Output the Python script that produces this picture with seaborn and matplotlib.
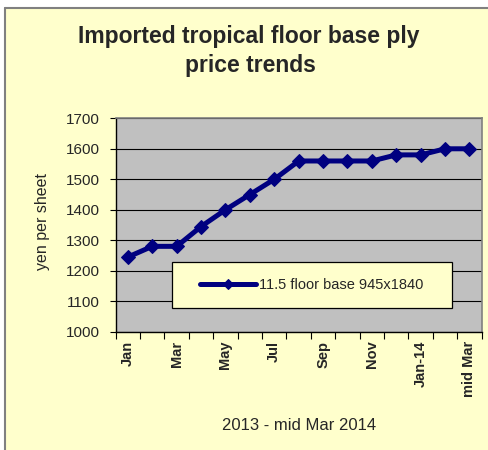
import numpy as np
import pandas as pd
import matplotlib
matplotlib.use("Agg")
import matplotlib.pyplot as plt
import seaborn as sns
from matplotlib.patches import Rectangle
from matplotlib.lines import Line2D

months = ["Jan", "Feb", "Mar", "Apr", "May", "Jun", "Jul", "Aug",
          "Sep", "Oct", "Nov", "Dec", "Jan-14", "Feb-14", "mid Mar"]
prices = [1245, 1280, 1280, 1345, 1400, 1450, 1500, 1560,
          1560, 1560, 1560, 1580, 1580, 1600, 1600]
shown_labels = ["Jan", "Mar", "May", "Jul", "Sep", "Nov", "Jan-14", "mid Mar"]
y_ticks = [1000, 1100, 1200, 1300, 1400, 1500, 1600, 1700]
series_name = "11.5 floor base 945x1840"
title_line1 = "Imported tropical floor base ply"
title_line2 = "price trends"
x_title = "2013 - mid Mar 2014"
y_title = "yen per sheet"

sns.set_style("white")
plt.rcParams['font.family'] = ['Liberation Sans', 'DejaVu Sans']

W, H = 489, 450
fig = plt.figure(figsize=(W / 100, H / 100), dpi=100, facecolor="white")

# outer chart area (light yellow with gray top/left border)
bg = Rectangle((5 / W, 0), 1, 1 - 8 / H, transform=fig.transFigure,
               facecolor="#FFFFCC", edgecolor="none", zorder=-10)
fig.patches.append(bg)
fig.lines.append(Line2D([5 / W, 5 / W], [0, 1 - 8 / H], transform=fig.transFigure,
                        color="#808080", lw=1.5, zorder=-9))
fig.lines.append(Line2D([5 / W, 1], [1 - 8 / H, 1 - 8 / H], transform=fig.transFigure,
                        color="#808080", lw=1.5, zorder=-9))

left, right, top, bottom = 115.7, 481.7, 118.3, 331.7
ax = fig.add_axes([left / W, 1 - bottom / H, (right - left) / W, (bottom - top) / H])
ax.set_zorder(1)
ax.set_facecolor("#C0C0C0")

df = pd.DataFrame({"month": months, "price": prices})
sns.lineplot(data=df, x="month", y="price", sort=False, ax=ax, color="#000080",
             lw=3.6, marker="D", markersize=7.5, markeredgecolor="#000080",
             label=series_name, zorder=3)

ax.set_xlim(-0.5, len(months) - 0.5)
ax.set_ylim(1000, 1700)
ax.set_yticks(y_ticks)
ax.set_yticklabels([str(v) for v in y_ticks], fontsize=11)
ax.yaxis.grid(True, color="black", lw=0.8)
ax.set_axisbelow(True)

ax.set_xticks(np.arange(-0.5, len(months), 1))
ax.set_xticklabels([])
pos = [months.index(m) for m in shown_labels]
ax.set_xticks(pos, minor=True)
ax.set_xticklabels(shown_labels, minor=True, rotation=90, fontsize=10.5,
                   fontweight="bold", va="top", ha="center")
ax.tick_params(axis="x", which="major", direction="out", length=5, width=0.8,
               color="black", bottom=True)
ax.tick_params(axis="x", which="minor", length=0, pad=6.5)
ax.tick_params(axis="y", direction="out", length=4, width=0.8, color="black",
               left=True, pad=7.5)
ax.set_xlabel("")
ax.set_ylabel("")

for s in ["left", "bottom"]:
    ax.spines[s].set_color("black")
    ax.spines[s].set_linewidth(1.0)
for s in ["top", "right"]:
    ax.spines[s].set_color("#808080")
    ax.spines[s].set_linewidth(1.2)

# legend box
lx0, lx1, ly0, ly1 = 171.7, 451.7, 262.3, 308.3
ax.add_patch(Rectangle(((lx0 - left) / (right - left), (bottom - ly1) / (bottom - top)),
                       (lx1 - lx0) / (right - left), (ly1 - ly0) / (bottom - top),
                       transform=ax.transAxes, facecolor="#FFFFCC", edgecolor="black",
                       lw=0.9, zorder=5))
leg = ax.legend(loc="center",
                bbox_to_anchor=(((lx0 + lx1) / 2 - left) / (right - left),
                                (bottom - (ly0 + ly1) / 2) / (bottom - top)),
                frameon=False, fontsize=10.5, handlelength=3.8, handletextpad=0.2,
                numpoints=1, markerscale=0.7)
leg.set_zorder(6)

fig.text(249 / W, 1 - 43 / H, title_line1, ha="center", va="baseline", fontsize=16.5,
         fontweight="bold")
fig.text(250 / W, 1 - 72 / H, title_line2, ha="center", va="baseline", fontsize=16.5,
         fontweight="bold")
fig.text(298.7 / W, 1 - 430 / H, x_title, ha="center", va="baseline", fontsize=12)
fig.text(43 / W, 1 - 222 / H, y_title, ha="center", va="center", rotation=90,
         fontsize=11.5)

fig.savefig("out.png", dpi=100, facecolor=fig.get_facecolor())
